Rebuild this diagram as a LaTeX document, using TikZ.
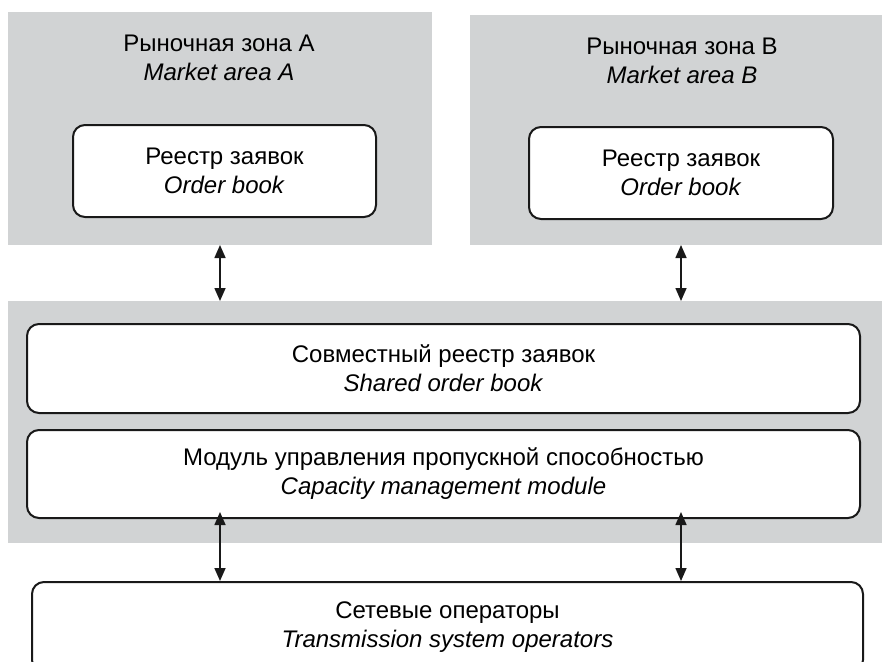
\documentclass[tikz,border=0pt]{standalone}
\usepackage{fontspec}
\setmainfont{Liberation Sans}
\usetikzlibrary{arrows.meta}
\definecolor{panelgray}{HTML}{D1D3D4}
\tikzset{
  panel/.style={fill=panelgray, draw=none, inner sep=0pt, outer sep=0pt},
  box/.style={draw=black!90, fill=white, line width=2pt, rounded corners=12pt, inner sep=0pt, align=center, font=\fontsize{24}{29}\selectfont},
  title/.style={align=center, inner sep=0pt, font=\fontsize{24}{29}\selectfont},
  link/.style={{Triangle[length=13pt,width=11pt]}-{Triangle[length=13pt,width=11pt]}, line width=1.6pt, black!90}
}
\begin{document}
\begin{tikzpicture}[x=1pt,y=-1pt]
\clip (0,0) rectangle (882,661);
\fill[white] (0,0) rectangle (882,661);
% panels
\node[panel, minimum width=424pt, minimum height=233pt] (grayA) at (220,128.5) {};
\node[panel, minimum width=412pt, minimum height=230pt] (grayB) at (676,130) {};
\node[panel, minimum width=874pt, minimum height=242pt] (grayC) at (445,422) {};
% titles
\node[title] (titleA) at (219,58) {Рыночная зона А\\\textit{Market area A}};
\node[title] (titleB) at (682,61) {Рыночная зона B\\\textit{Market area B}};
% boxes
\node[box, minimum width=303pt, minimum height=92pt] (obA) at (224.5,171) {Реестр заявок\\\textit{Order book}};
\node[box, minimum width=304pt, minimum height=92pt] (obB) at (681,173) {Реестр заявок\\\textit{Order book}};
\node[box, minimum width=833pt, minimum height=89pt] (shared) at (443.5,368.5) {Совместный реестр заявок\\\textit{Shared order book}};
\node[box, minimum width=833pt, minimum height=88pt] (cap) at (443.5,474) {Модуль управления пропускной способностью\\\textit{Capacity management module}};
\node[box, minimum width=831pt, minimum height=90pt] (tso) at (447.5,627) {Сетевые операторы\\\textit{Transmission system operators}};
% connectors
\draw[link] (grayA.south) -- (grayC.north -| grayA.south);
\draw[link] (obB.south |- grayB.south) -- (grayC.north -| obB.south);
\draw[link] ([yshift=7pt]cap.south -| grayA.south) -- (tso.north -| grayA.south);
\draw[link] ([yshift=7pt]cap.south -| obB.south) -- (tso.north -| obB.south);
\end{tikzpicture}
\end{document}
